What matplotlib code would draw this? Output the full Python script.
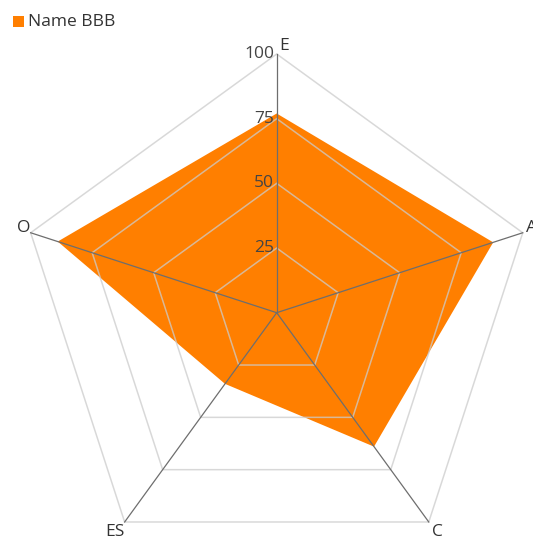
import numpy as np
import matplotlib.pyplot as plt
from matplotlib.patches import Polygon, Rectangle

plt.rcParams["font.family"] = ["Open Sans", "DejaVu Sans"]

# data
indicators = ["E", "A", "C", "ES", "O"]
values = [77, 88, 64, 34, 89]
series_name = "Name BBB"
ticks = [25, 50, 75, 100]
max_val = 100

W, H = 533, 538
cx, cy = 276.7, 312.7          # centre in pixels (from top-left)
rpx = 258.7                    # radius of 100 in pixels
s = rpx / max_val

fig = plt.figure(figsize=(W / 100, H / 100), dpi=100)
ax = fig.add_axes([0, 0, 1, 1])
ax.set_xlim(-cx / s, (W - cx) / s)
ax.set_ylim(-(H - cy) / s, cy / s)
ax.axis("off")

n = len(indicators)
ang = np.pi / 2 - 2 * np.pi * np.arange(n) / n
ux, uy = np.cos(ang), np.sin(ang)

# filled series
vals = np.array(values, dtype=float)
ax.add_patch(Polygon(np.c_[vals * ux, vals * uy], closed=True,
                     facecolor="#ff7f00", edgecolor="none", zorder=1))

# grid polygons
for t in ticks:
    ax.add_patch(Polygon(np.c_[t * ux, t * uy], closed=True, fill=False,
                         edgecolor="#cccccc", lw=1.1, alpha=0.75, zorder=2))

# spokes
for i in range(n):
    ax.plot([0, max_val * ux[i]], [0, max_val * uy[i]], color="#6e6e6e",
            lw=0.9, zorder=3)

# tick labels along first axis
for t in ticks:
    ax.text(-1.0, t, str(t), ha="right", va="center", fontsize=12.5,
            color="#444444", zorder=4)

# indicator labels (offsets in pixels)
for i, name in enumerate(indicators):
    x, y = max_val * ux[i], max_val * uy[i]
    if ux[i] > 0.1:
        ha, dx = "left", 3
    elif ux[i] < -0.1:
        ha, dx = "right", 0
    else:
        ha, dx = "left", 2.5
    if uy[i] > 0.5:
        dy = 4
    elif uy[i] < -0.5:
        dy = -14
    else:
        dy = 1
    ax.text(x + dx / s, y + dy / s, name, ha=ha, va="baseline",
            fontsize=12.5, color="#333333")

# legend
fig.patches.append(Rectangle((13 / W, 1 - 27 / H), 11 / W, 11 / H,
                             transform=fig.transFigure, facecolor="#ff7f00",
                             edgecolor="none"))
fig.text(28 / W, 1 - 21.5 / H, series_name, ha="left", va="center",
         fontsize=12.5, color="#333333")

fig.savefig("out.png", dpi=100)
